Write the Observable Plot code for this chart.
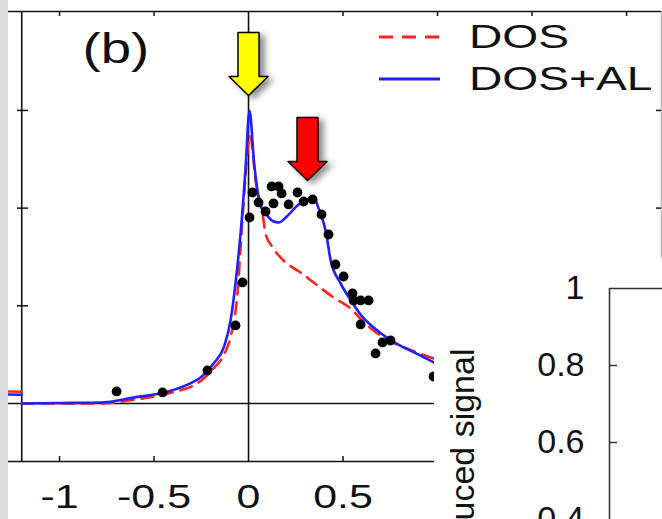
<!DOCTYPE html>
<html><head><meta charset="utf-8">
<script src="https://cdn.jsdelivr.net/npm/d3@7"></script>
<script src="https://cdn.jsdelivr.net/npm/@observablehq/plot@0.6"></script>
<style>
html,body{margin:0;padding:0;background:#fff;}
#wrap{position:relative;width:662px;height:519px;overflow:hidden;font-family:"Liberation Sans",Arial,sans-serif;}
#main{position:absolute;left:0;top:0;}
#inset{position:absolute;left:434px;top:258px;}
#strip{position:absolute;left:0;top:0;width:8px;height:519px;background:#dcdcdc;}
</style></head>
<body><div id="wrap"><div id="main"></div><div id="inset"></div><div id="strip"></div></div>
<script>
// ---- data ----
const xTickLabels = [-1, -0.5, 0, 0.5];
const topTicks = [-1, -0.5, 0.5, 1, 1.5, 2];
const bottomTicks = [-1, -0.5, 0.5, 1];
const leftTicks = [1, 2, 3];
const rightTicks = [2, 3];
const insetTicks = [0.4, 0.6, 0.8, 1];
const insetInnerTicks = [0.6, 0.8];
const legendLabels = ["DOS", "DOS+AL"];

// DOS (red dashed)
const dosCurve = [
  [-1.2, 0.0], [-0.78, 0.0], [-0.6, 0.04], [-0.43, 0.10], [-0.25, 0.235], [-0.185, 0.36],
  [-0.13, 0.5], [-0.095, 0.68], [-0.06, 1.1], [-0.03, 1.95], [0.008, 2.74], [0.04, 2.25],
  [0.074, 1.945], [0.09, 1.74], [0.127, 1.6], [0.185, 1.464], [0.275, 1.341], [0.365, 1.208],
  [0.45, 1.085], [0.54, 0.973], [0.6, 0.85], [0.71, 0.68], [0.86, 0.545], [0.98, 0.46]
];
// DOS+AL (blue solid)
const dosAlCurve = [
  [-1.2, 0.0], [-1.0, 0.005], [-0.78, 0.01], [-0.61, 0.06], [-0.43, 0.12], [-0.32, 0.195],
  [-0.25, 0.27], [-0.185, 0.41], [-0.13, 0.58], [-0.095, 0.85], [-0.075, 1.13], [-0.055, 1.48],
  [-0.035, 1.9], [-0.016, 2.4], [0.005, 3.0], [0.03, 2.45], [0.05, 2.15], [0.075, 1.97],
  [0.1, 1.92], [0.13, 1.865], [0.16, 1.853], [0.2, 1.91], [0.26, 2.03], [0.31, 2.09],
  [0.345, 2.11], [0.37, 2.0], [0.41, 1.75], [0.434, 1.47], [0.487, 1.23], [0.54, 1.06],
  [0.593, 0.91], [0.70, 0.72], [0.80, 0.595], [0.90, 0.5], [0.98, 0.42]
];
// pieces of the neighbouring panel visible at the far left
const neighborDos = [[-1.27, 0.122], [-1.205, 0.12]];
const neighborDosAl = [[-1.27, 0.092], [-1.2, 0.09]];
// measured points
const measured = [
  [-0.698, 0.123], [-0.455, 0.113], [-0.217, 0.338], [-0.069, 0.799], [-0.032, 1.239],
  [0.005, 1.904], [0.021, 2.160], [0.053, 2.058], [0.090, 1.966], [0.122, 2.222],
  [0.159, 2.222], [0.175, 2.150], [0.132, 2.048], [0.212, 2.038], [0.259, 2.160],
  [0.291, 2.068], [0.339, 2.089], [0.386, 1.935], [0.423, 1.730], [0.460, 1.423],
  [0.503, 1.300], [0.550, 1.126], [0.556, 1.055], [0.593, 1.055], [0.635, 1.055],
  [0.593, 0.809], [0.709, 0.625], [0.751, 0.645], [0.672, 0.512], [0.979, 0.276]
];
// annotation arrows (tip positions)
const arrows = [
  {x: 0.0, y: 3.153, color: "#ffff00"},
  {x: 0.312, y: 2.283, color: "#ff0000"}
];

// ---- scales' extents ----
const xDomain = [-1.27, 2.185];
const yDomain = [-0.594, 4.013];
const panelLeft = -1.2;

const FONT = "Liberation Sans, Arial, Helvetica, sans-serif";
const RED = "#ff2222", BLUE = "#2020ff", AX = "#111";

const blockArrow = {
  draw(context, l) {
    const hw = 19.5, hl = 19, sw = 10.5;
    context.moveTo(0, 0);
    context.lineTo(-hw, -hl);
    context.lineTo(-sw, -hl);
    context.lineTo(-sw, -l);
    context.lineTo(sw, -l);
    context.lineTo(sw, -hl);
    context.lineTo(hw, -hl);
    context.closePath();
  }
};

const main = Plot.plot({
  width: 662, height: 519,
  marginLeft: 8, marginRight: 1, marginTop: 11, marginBottom: 58,
  x: {domain: xDomain, axis: null},
  y: {domain: yDomain, axis: null},
  color: {type: "identity"},
  style: {background: "transparent", color: AX, fontFamily: FONT, overflow: "visible"},
  marks: [
    Plot.ruleX([xDomain[1]], {stroke: "#b5b5b5", strokeWidth: 1.5}),
    Plot.ruleY([yDomain[1]], {stroke: AX, strokeWidth: 1.6}),
    Plot.ruleY([yDomain[0]], {stroke: AX, strokeWidth: 1.6}),
    Plot.ruleY([0], {stroke: AX, strokeWidth: 1.6}),
    Plot.ruleX([panelLeft], {stroke: AX, strokeWidth: 1.6}),
    Plot.ruleX([0], {stroke: AX, strokeWidth: 1.6}),
    Plot.tickX(topTicks, {x: d => d, insetBottom: 445, stroke: AX, strokeWidth: 1.5}),
    Plot.tickX(bottomTicks, {x: d => d, insetTop: 445, stroke: AX, strokeWidth: 1.5}),
    Plot.tickY(leftTicks, {y: d => d, insetLeft: 9, insetRight: 633, stroke: AX, strokeWidth: 1.5}),
    Plot.tickY(rightTicks, {y: d => d, insetLeft: 648, stroke: AX, strokeWidth: 1.5}),
    Plot.line(neighborDos, {x: d => d[0], y: d => d[1], stroke: RED, strokeWidth: 2.6}),
    Plot.line(neighborDosAl, {x: d => d[0], y: d => d[1], stroke: BLUE, strokeWidth: 2.6}),
    Plot.line(dosCurve, {x: d => d[0], y: d => d[1], stroke: RED, strokeWidth: 2.6, strokeDasharray: "12,8", curve: "monotone-x"}),
    Plot.line(dosAlCurve, {x: d => d[0], y: d => d[1], stroke: BLUE, strokeWidth: 2.6, curve: "monotone-x"}),
    Plot.dot(measured, {x: d => d[0], y: d => d[1], r: 4.9, fill: "#000"}),
    Plot.vector(arrows, {x: "x", y: "y", fill: d => d.color, stroke: "#000", strokeWidth: 1.5,
      length: 63, anchor: "start", shape: blockArrow,
      imageFilter: "drop-shadow(5px 3px 3px rgba(0,0,0,0.45))"}),
    Plot.axisX({ticks: xTickLabels, tickSize: 0, tickPadding: 23, fontSize: 33, fontFamily: FONT,
      tickFormat: d => String(d), label: null}),
    Plot.text(["(b)"], {frameAnchor: "top-left", dx: 74, dy: 22, lineAnchor: "top", textAnchor: "start",
      fontSize: 42, fontFamily: FONT})
  ]
});

// stretch horizontally the texts of this panel (the source figure is wider than tall)
d3.select(main).selectAll('g[aria-label="x-axis tick label"] text')
  .attr("transform", function() { return (this.getAttribute("transform") || "") + " scale(1.3,1)"; });
d3.select(main).selectAll("text").filter(function() { return this.textContent === "(b)"; })
  .attr("transform", function() { return (this.getAttribute("transform") || "") + " scale(1.3,1)"; });

// legend
const lg = d3.select(main).append("g").attr("font-family", FONT).attr("font-size", 33)
  .attr("fill", AX).attr("text-anchor", "start");
const legendStyles = [
  {stroke: RED, dash: "14,9", y: 37, base: 48},
  {stroke: BLUE, dash: null, y: 79, base: 90}
];
legendLabels.forEach((label, i) => {
  const s = legendStyles[i];
  lg.append("line").attr("x1", 379).attr("x2", 440).attr("y1", s.y).attr("y2", s.y)
    .attr("stroke", s.stroke).attr("stroke-width", 2.8).attr("stroke-dasharray", s.dash);
  lg.append("text").attr("text-anchor", "start")
    .attr("transform", `translate(469,${s.base}) scale(1.4,1)`).text(label);
});

document.getElementById("main").appendChild(main);

// overlapping neighbouring panel (lower right)
const inset = Plot.plot({
  width: 228, height: 261,
  marginLeft: 175, marginRight: 0, marginTop: 30, marginBottom: 0,
  x: {domain: [0, 1], axis: null},
  y: {domain: [0.4, 1], axis: null},
  style: {background: "#fff", color: AX, fontFamily: FONT, overflow: "visible"},
  marks: [
    Plot.ruleX([0], {stroke: "#333", strokeWidth: 1.6}),
    Plot.ruleY([1], {stroke: "#333", strokeWidth: 1.6}),
    Plot.tickY(insetInnerTicks, {y: d => d, insetRight: 45, stroke: "#333", strokeWidth: 1.5}),
    Plot.axisY({ticks: insetTicks, tickSize: 0, tickPadding: 25, fontSize: 34, fontFamily: FONT,
      tickFormat: d => String(d), label: null}),
    Plot.text(["Reduced signal"], {frameAnchor: "top-left", dx: -146, dy: 60, rotate: -90,
      textAnchor: "end", lineAnchor: "middle", fontSize: 34, fontFamily: FONT})
  ]
});
document.getElementById("inset").appendChild(inset);
</script>
</body></html>
